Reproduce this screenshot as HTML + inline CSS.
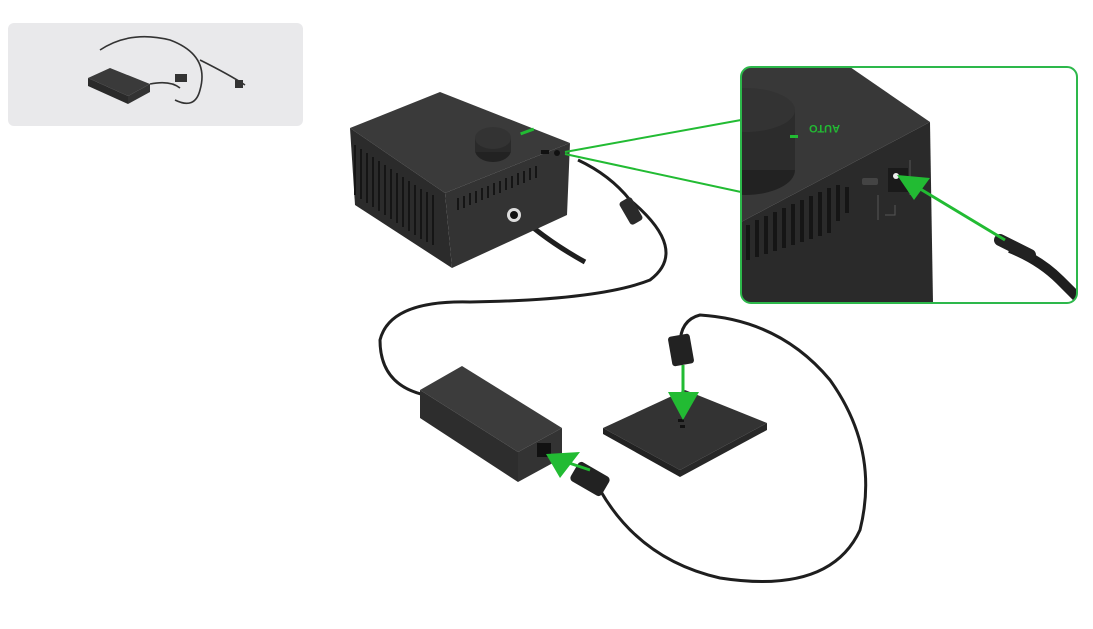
<!DOCTYPE html>
<html><head><meta charset="utf-8"><style>
html,body{margin:0;padding:0;background:#fff;width:1093px;height:629px;overflow:hidden}
svg{display:block}
</style></head><body>
<svg width="1093" height="629" viewBox="0 0 1093 629" xmlns="http://www.w3.org/2000/svg">
<defs>
<marker id="ah" viewBox="0 0 10 10" refX="6" refY="5" markerWidth="4" markerHeight="4" orient="auto"><path d="M0,0 L10,5 L0,10 z" fill="#22bb33"/></marker>
</defs>
<!-- top-left thumbnail -->
<rect x="8" y="23" width="295" height="103" rx="6" fill="#e9e9eb"/>
<polygon points="88,78 110,68 150,84 128,96" fill="#3a3a3a"/>
<polygon points="88,78 128,96 128,104 88,86" fill="#2a2a2a"/>
<polygon points="128,96 150,84 150,92 128,104" fill="#333"/>
<path d="M100,50 Q130,30 170,40 Q210,55 200,90 Q195,110 175,100 M150,84 Q170,80 180,88 M200,60 Q230,75 245,85" stroke="#333" stroke-width="1.6" fill="none"/>
<rect x="175" y="74" width="12" height="8" fill="#333"/>
<rect x="235" y="80" width="8" height="8" fill="#333"/>

<!-- cables -->
<path d="M578,160 Q610,175 630,200 Q690,250 650,280 Q600,300 470,302 Q390,300 380,340 Q380,385 425,395" stroke="#1e1e1e" stroke-width="3" fill="none"/>
<path d="M515,212 Q545,240 585,262" stroke="#1e1e1e" stroke-width="5" fill="none"/>
<path d="M600,490 Q640,560 720,578 Q830,595 860,530 Q880,450 830,380 Q780,320 700,315 Q680,320 680,345" stroke="#1e1e1e" stroke-width="3" fill="none"/>
<rect x="624" y="198" width="14" height="26" rx="3" fill="#2a2a2a" transform="rotate(-30 631 211)"/>

<!-- main box -->
<polygon points="350,128 440,92 570,143 445,193" fill="#3a3a3a"/>
<polygon points="350,128 445,193 452,268 355,205" fill="#2b2b2b"/>
<polygon points="445,193 570,143 567,215 452,268" fill="#333"/>
<g stroke="#151515" stroke-width="2">
<path d="M355,145 L355,195 M361,149 L361,199 M367,153 L367,203 M373,157 L373,207 M379,161 L379,211 M385,165 L385,215 M391,169 L391,219 M397,173 L397,223 M403,177 L403,227 M409,181 L409,231 M415,185 L415,235 M421,189 L421,239 M427,192 L427,242 M433,195 L433,245"/>
<path d="M458,198 L458,210 M464,196 L464,208 M470,193 L470,205 M476,191 L476,203 M482,188 L482,200 M488,186 L488,198 M494,183 L494,195 M500,181 L500,193 M506,178 L506,190 M512,176 L512,188 M518,173 L518,185 M524,171 L524,183 M530,168 L530,180 M536,166 L536,178"/>
</g>
<ellipse cx="493" cy="150" rx="18" ry="12" fill="#222"/>
<rect x="475" y="138" width="36" height="14" fill="#2a2a2a"/>
<ellipse cx="493" cy="138" rx="18" ry="11" fill="#333"/>
<rect x="520" y="130" width="14" height="3" fill="#22bb33" transform="rotate(-20 527 131)"/>
<circle cx="514" cy="215" r="7" fill="#ddd"/><circle cx="514" cy="215" r="4" fill="#111"/>
<rect x="541" y="150" width="8" height="4" fill="#111"/>
<circle cx="557" cy="153" r="3" fill="#111"/>

<!-- green callout lines -->
<path d="M565,152 L741,120 M565,154 L741,192" stroke="#22bb33" stroke-width="2" fill="none"/>

<!-- inset -->
<clipPath id="ic"><rect x="741" y="67" width="336" height="236" rx="10"/></clipPath>
<g clip-path="url(#ic)">
<rect x="741" y="67" width="336" height="236" fill="#fff"/>
<polygon points="741,67 850,67 930,122 741,222" fill="#383838"/>
<polygon points="741,222 930,122 933,303 741,303" fill="#2a2a2a"/>
<ellipse cx="745" cy="170" rx="50" ry="25" fill="#222"/>
<rect x="741" y="110" width="54" height="60" fill="#2c2c2c"/>
<ellipse cx="745" cy="110" rx="50" ry="22" fill="#333"/>
<g stroke="#151515" stroke-width="4">
<path d="M748,225 L748,260 M757,220 L757,257 M766,216 L766,254 M775,212 L775,251 M784,208 L784,248 M793,204 L793,245 M802,200 L802,242 M811,196 L811,239 M820,192 L820,236 M829,188 L829,233 M838,185 L838,221 M847,187 L847,213"/>
</g>
<text x="810" y="125" font-family="Liberation Sans, sans-serif" font-size="11" font-weight="bold" fill="#22bb33" transform="rotate(180 825 125)">AUTO</text>
<rect x="790" y="135" width="8" height="3" fill="#22bb33"/>
<rect x="862" y="178" width="16" height="7" rx="2" fill="#444"/>
<rect x="888" y="168" width="20" height="24" fill="#1a1a1a"/>
<circle cx="896" cy="176" r="3" fill="#eee"/>
<path d="M910,160 L910,195 M878,195 L878,220 M885,215 L895,215 L895,205" stroke="#555" stroke-width="1" fill="none"/>
<path d="M1010,248 Q1040,260 1060,280 L1080,300" stroke="#1e1e1e" stroke-width="10" fill="none"/>
<path d="M1000,240 L1030,255" stroke="#222" stroke-width="12" stroke-linecap="round"/>
</g>
<rect x="741" y="67" width="336" height="236" rx="10" fill="none" stroke="#2db84b" stroke-width="2"/>
<line x1="1005" y1="240" x2="912" y2="184" stroke="#22bb33" stroke-width="3"/>
<polygon points="897,175 930,178 914,200" fill="#22bb33"/>

<!-- adapter -->
<polygon points="420,390 462,366 562,428 518,452" fill="#3c3c3c"/>
<polygon points="420,390 518,452 518,482 420,418" fill="#2d2d2d"/>
<polygon points="518,452 562,428 562,458 518,482" fill="#333"/>
<rect x="537" y="443" width="14" height="14" fill="#111"/>

<!-- plate -->
<polygon points="603,428 685,390 767,423 680,470" fill="#333"/>
<polygon points="603,428 680,470 680,477 603,434" fill="#222"/>
<polygon points="680,470 767,423 767,430 680,477" fill="#282828"/>
<rect x="678" y="419" width="6" height="3" fill="#111"/><rect x="680" y="425" width="5" height="3" fill="#111"/>
<!-- plug over plate -->
<rect x="670" y="335" width="22" height="30" rx="3" fill="#222" transform="rotate(-10 681 350)"/>
<line x1="683" y1="365" x2="683" y2="398" stroke="#22bb33" stroke-width="3"/>
<polygon points="668,392 699,392 683,420" fill="#22bb33"/>

<!-- plug at adapter -->
<rect x="572" y="468" width="36" height="22" rx="4" fill="#222" transform="rotate(30 590 479)"/>
<line x1="590" y1="470" x2="560" y2="460" stroke="#22bb33" stroke-width="3"/>
<polygon points="546,454 580,452 560,478" fill="#22bb33"/>
</svg>
</body></html>
